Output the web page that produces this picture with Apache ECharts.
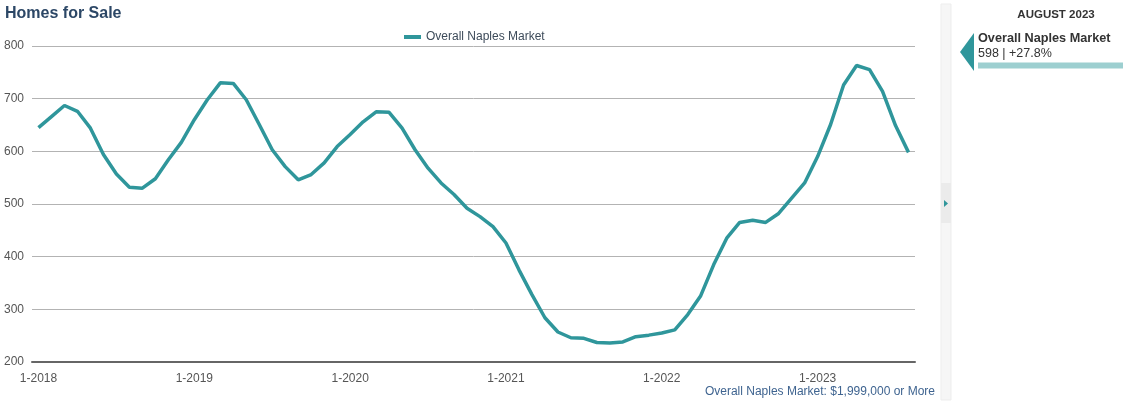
<!DOCTYPE html>
<html>
<head>
<meta charset="utf-8">
<script src="https://cdn.jsdelivr.net/npm/echarts@6/dist/echarts.min.js"></script>
<style>
html,body{margin:0;padding:0;background:#fff;}
#c{width:1123px;height:403px;}
</style>
</head>
<body>
<div id="c"></div>
<script>
const years = [2018, 2019, 2020, 2021, 2022, 2023];
const v2018 = [645, 666, 687, 676, 644, 594, 557, 532, 530, 548, 584, 617];
const v2019 = [660, 698, 730, 729, 698, 651, 603, 571, 546, 556, 578, 609];
const v2020 = [632, 656, 675, 674, 644, 603, 568, 540, 518, 492, 476, 457];
const v2021 = [426, 375, 328, 284, 257, 246, 245, 237, 236, 238, 248, 251];
const v2022 = [255, 261, 290, 326, 385, 435, 465, 469, 465, 482, 511, 540];
const v2023 = [590, 651, 726, 763, 755, 714, 649, 598];
const seriesName = 'Overall Naples Market';
const yTicks = [200, 300, 400, 500, 600, 700, 800];
const latestLabel = 'AUGUST 2023';
const latestValue = '598 | +27.8%';
const footnote = 'Overall Naples Market: $1,999,000 or More';

const values = [].concat(v2018, v2019, v2020, v2021, v2022, v2023);
const categories = [];
years.forEach(y => { for (let m = 1; m <= 12; m++) categories.push(m + '-' + y); });
categories.length = values.length;

const teal = '#2f969b';
const font = '"Liberation Sans", Arial, Helvetica, sans-serif';
const chart = echarts.init(document.getElementById('c'));
chart.setOption({
  animation: false,
  textStyle: { fontFamily: font },
  grid: { left: 32, right: 208, top: 46, bottom: 41, containLabel: false },
  legend: {
    data: [seriesName], left: 399, top: 26, icon: 'rect', itemWidth: 17, itemHeight: 4,
    textStyle: { fontSize: 12, color: '#3d4b5a', fontFamily: font }
  },
  xAxis: {
    type: 'category', data: categories, boundaryGap: true,
    axisLine: { lineStyle: { color: '#666', width: 2 } },
    axisTick: { alignWithLabel: true, interval: i => i % 12 === 0, length: 5, lineStyle: { color: '#666', width: 2 } },
    axisLabel: { interval: i => i % 12 === 0, color: '#555', fontSize: 12, margin: 11, fontFamily: font },
    splitLine: { show: false }
  },
  yAxis: {
    type: 'value', min: yTicks[0], max: yTicks[yTicks.length - 1], interval: 100,
    axisLine: { show: false }, axisTick: { show: false },
    axisLabel: { color: '#555', fontSize: 12, margin: 8, fontFamily: font },
    splitLine: { lineStyle: { color: '#b3b3b3', width: 1 } }
  },
  series: [{
    name: seriesName, type: 'line', data: values, symbol: 'none', smooth: false,
    lineStyle: { color: teal, width: 3.5 }, itemStyle: { color: teal }
  }],
  graphic: [
    { type: 'text', left: 5, top: 6, style: { text: 'Homes for Sale', fontSize: 16, fontWeight: 'bold', fill: '#2c4766', fontFamily: font } },
    { type: 'text', x: 935, y: 392, style: { text: footnote, fontSize: 12, fill: '#3f6490', align: 'right', verticalAlign: 'middle', fontFamily: font } },
    { type: 'rect', shape: { x: 941, y: 4, width: 10, height: 396 }, style: { fill: '#f6f6f6', stroke: '#ededed', lineWidth: 1 } },
    { type: 'rect', shape: { x: 941, y: 183, width: 10, height: 40 }, style: { fill: '#ebebeb' } },
    { type: 'polygon', shape: { points: [[944, 200], [948, 203.5], [944, 207]] }, style: { fill: teal } },
    { type: 'text', x: 1056, y: 15, style: { text: latestLabel, fontSize: 11.5, fontWeight: 'bold', fill: '#333', align: 'center', verticalAlign: 'middle', fontFamily: font } },
    { type: 'polygon', shape: { points: [[974, 33], [960, 52], [974, 71]] }, style: { fill: teal } },
    { type: 'text', x: 978, y: 38.5, style: { text: seriesName, fontSize: 12.7, fontWeight: 'bold', fill: '#333', verticalAlign: 'middle', fontFamily: font } },
    { type: 'text', x: 978, y: 53.5, style: { text: latestValue, fontSize: 12.5, fill: '#333', verticalAlign: 'middle', fontFamily: font } },
    { type: 'rect', shape: { x: 978, y: 62.5, width: 145, height: 6 }, style: { fill: '#9dcfd0' } }
  ]
});
</script>
</body>
</html>
